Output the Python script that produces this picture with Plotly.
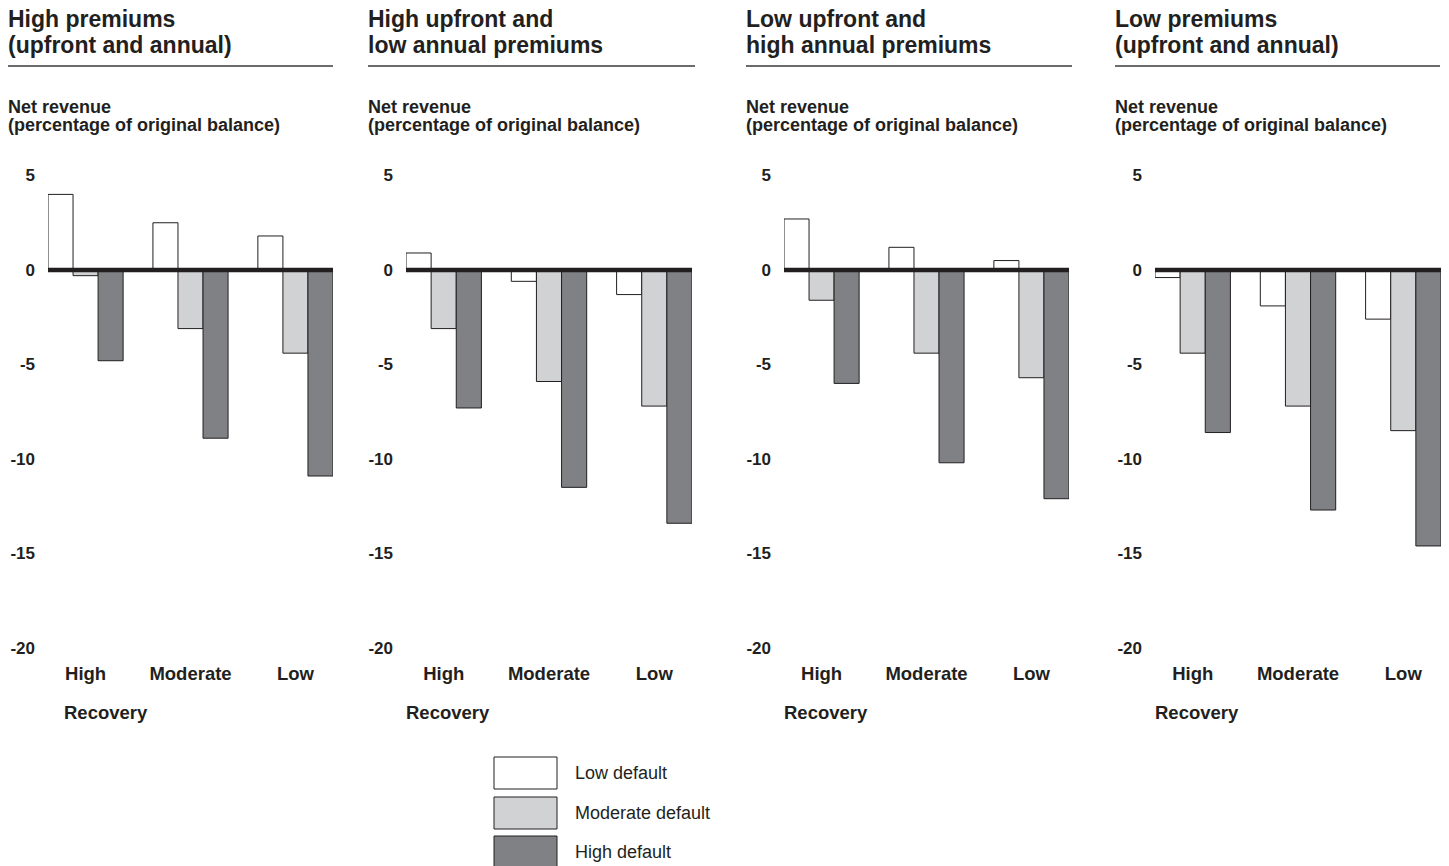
import plotly.graph_objects as go

# ---------------- data ----------------
recovery = ["High", "Moderate", "Low"]
series_names = ["Low default", "Moderate default", "High default"]
series_colors = ["#ffffff", "#d1d2d4", "#808184"]

title_line1 = ["High premiums", "High upfront and", "Low upfront and", "Low premiums"]
title_line2 = ["(upfront and annual)", "low annual premiums", "high annual premiums", "(upfront and annual)"]

p1_low = [4.0, 2.5, 1.8]
p1_mod = [-0.3, -3.1, -4.4]
p1_high = [-4.8, -8.9, -10.9]

p2_low = [0.9, -0.6, -1.3]
p2_mod = [-3.1, -5.9, -7.2]
p2_high = [-7.3, -11.5, -13.4]

p3_low = [2.7, 1.2, 0.5]
p3_mod = [-1.6, -4.4, -5.7]
p3_high = [-6.0, -10.2, -12.1]

p4_low = [-0.4, -1.9, -2.6]
p4_mod = [-4.4, -7.2, -8.5]
p4_high = [-8.6, -12.7, -14.6]

y_ticks = [5, 0, -5, -10, -15, -20]
y_label1 = "Net revenue"
y_label2 = "(percentage of original balance)"
x_label = "Recovery"

panels = [
    [p1_low, p1_mod, p1_high],
    [p2_low, p2_mod, p2_high],
    [p3_low, p3_mod, p3_high],
    [p4_low, p4_mod, p4_high],
]

# ---------------- layout helpers ----------------
W, H = 1449, 866
INK = "#231f20"
FONT = "Liberation Sans, Arial, Helvetica, sans-serif"


def fx(px):
    return px / W


def fy(py):
    return 1 - py / H


panel_px = [(48, 333), (406, 692), (784, 1069), (1155, 1441)]
title_left = [8, 368, 746, 1115]
rule_right = [333, 695, 1072, 1440]
recovery_left = [64, 406, 784, 1155]
y_top_px, y_bot_px = 175.5, 648

fig = go.Figure()
annotations = []
shapes = []

for i, vals in enumerate(panels):
    xa = "x" if i == 0 else f"x{i+1}"
    ya = "y" if i == 0 else f"y{i+1}"
    for s, (name, color) in enumerate(zip(series_names, series_colors)):
        fig.add_trace(go.Bar(
            x=recovery, y=vals[s], name=name,
            marker=dict(color=color, line=dict(color=INK, width=1)),
            xaxis=xa, yaxis=ya, showlegend=False,
            hovertemplate=name + "<br>%{x} recovery: %{y}<extra></extra>",
        ))
    x0, x1 = panel_px[i]
    axsuffix = "" if i == 0 else str(i + 1)
    fig.update_layout(**{
        f"xaxis{axsuffix}": dict(
            domain=[fx(x0), fx(x1)], anchor=ya, range=[-0.358, 2.358],
            showgrid=False, zeroline=False, showline=False, ticks="",
            tickfont=dict(family=FONT, size=18.5, color=INK, weight="bold"),
            ticklabelstandoff=12, fixedrange=True, automargin=False,
        ),
        f"yaxis{axsuffix}": dict(
            domain=[fy(y_bot_px), fy(y_top_px)], anchor=xa, range=[-20, 5],
            tickvals=y_ticks, ticktext=[str(v) for v in y_ticks],
            showgrid=False, zeroline=False, showline=False, ticks="",
            tickfont=dict(family=FONT, size=17, color=INK, weight="bold"),
            ticklabelstandoff=12, fixedrange=True, automargin=False,
        ),
    })
    # thick zero line across the plot
    shapes.append(dict(type="line", xref=f"{xa} domain", yref=ya, x0=0, x1=1, y0=0, y1=0,
                       line=dict(color=INK, width=4.5), layer="above"))
    # title rule
    shapes.append(dict(type="line", xref="paper", yref="paper",
                       x0=fx(title_left[i]), x1=fx(rule_right[i]), y0=fy(66), y1=fy(66),
                       line=dict(color="#3a3a3a", width=1.5)))
    # titles
    for txt, cy in ((title_line1[i], 18.5), (title_line2[i], 45)):
        annotations.append(dict(text=f"<b>{txt}</b>", xref="paper", yref="paper",
                                x=fx(title_left[i] - 2), y=fy(cy), xanchor="left", yanchor="middle",
                                showarrow=False, font=dict(family=FONT, size=23, color=INK)))
    for txt, cy in ((y_label1, 106.5), (y_label2, 125.5)):
        annotations.append(dict(text=f"<b>{txt}</b>", xref="paper", yref="paper",
                                x=fx(title_left[i] - 2), y=fy(cy), xanchor="left", yanchor="middle",
                                showarrow=False, font=dict(family=FONT, size=18, color=INK)))
    annotations.append(dict(text=f"<b>{x_label}</b>", xref="paper", yref="paper",
                            x=fx(recovery_left[i] - 2), y=fy(712), xanchor="left", yanchor="middle",
                            showarrow=False, font=dict(family=FONT, size=18.5, color=INK)))

# legend drawn as large swatches
legend_box_top = [757, 797, 836]
for name, color, top in zip(series_names, series_colors, legend_box_top):
    shapes.append(dict(type="rect", xref="paper", yref="paper",
                       x0=fx(494), x1=fx(557), y0=fy(top), y1=fy(top + 32),
                       fillcolor=color, line=dict(color=INK, width=1)))
    annotations.append(dict(text=name, xref="paper", yref="paper",
                            x=fx(573), y=fy(top + 16), xanchor="left", yanchor="middle",
                            showarrow=False, font=dict(family=FONT, size=18, color=INK)))

fig.update_layout(
    width=W, height=H, margin=dict(l=0, r=0, t=0, b=0, autoexpand=False),
    paper_bgcolor="white", plot_bgcolor="white",
    barmode="group", bargap=0.284, bargroupgap=0,
    showlegend=False, shapes=shapes, annotations=annotations,
)

fig.write_html(
    "out.html",
    config={"displayModeBar": False},
    post_script="document.body.style.margin='0';document.body.style.overflow='hidden';",
)
